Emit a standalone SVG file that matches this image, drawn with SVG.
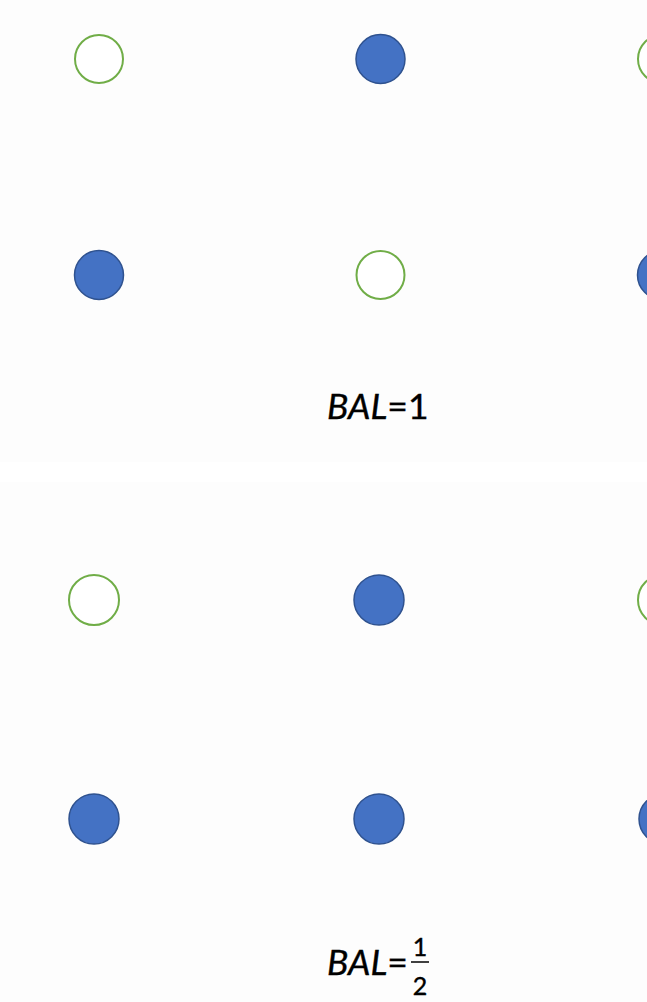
<svg xmlns="http://www.w3.org/2000/svg" width="647" height="1002" viewBox="0 0 647 1002">
<style>
.bg{fill:#fdfdfd}
.fill{fill:#4472C4;stroke:#2F528F;stroke-width:1.5}
.open{fill:#ffffff;stroke:#70AD47;stroke-width:2}
.lbl{font-family:"Lato","Liberation Sans",sans-serif;fill:#000;stroke:#000;stroke-width:0.4}
</style>
<rect width="647" height="1002" fill="#ffffff"/>
<rect class="bg" x="0" y="0" width="647" height="462"/>
<rect class="bg" x="0" y="482" width="647" height="520"/>
<g id="panel1">
<g id="n1"><circle class="open" cx="99" cy="59" r="24"/></g>
<g id="n2"><circle class="fill" cx="380.5" cy="59" r="24.5"/></g>
<g id="n3"><circle class="open" cx="662" cy="59" r="24"/></g>
<g id="n4"><circle class="fill" cx="99" cy="275" r="24.5"/></g>
<g id="n5"><circle class="open" cx="380.5" cy="275" r="24"/></g>
<g id="n6"><circle class="fill" cx="662" cy="275" r="24.5"/></g>
<text class="lbl" x="327" y="419" font-size="35.5"><tspan font-style="italic">BAL</tspan>=1</text>
</g>
<g id="panel2">
<g id="n7"><circle class="open" cx="94" cy="600" r="25"/></g>
<g id="n8"><circle class="fill" cx="379" cy="600" r="25"/></g>
<g id="n9"><circle class="open" cx="663" cy="600" r="25"/></g>
<g id="n10"><circle class="fill" cx="94" cy="819" r="25"/></g>
<g id="n11"><circle class="fill" cx="379" cy="819" r="25"/></g>
<g id="n12"><circle class="fill" cx="664" cy="819" r="25"/></g>
<text class="lbl" x="327" y="975" font-size="35.5"><tspan font-style="italic">BAL</tspan>=</text>
<text class="lbl" x="420" y="956" font-size="25" text-anchor="middle">1</text>
<line x1="411" y1="962" x2="429" y2="962" stroke="#000" stroke-width="1.5"/>
<text class="lbl" x="420" y="995" font-size="25" text-anchor="middle">2</text>
</g>
<g id="connectors"/>
</svg>
